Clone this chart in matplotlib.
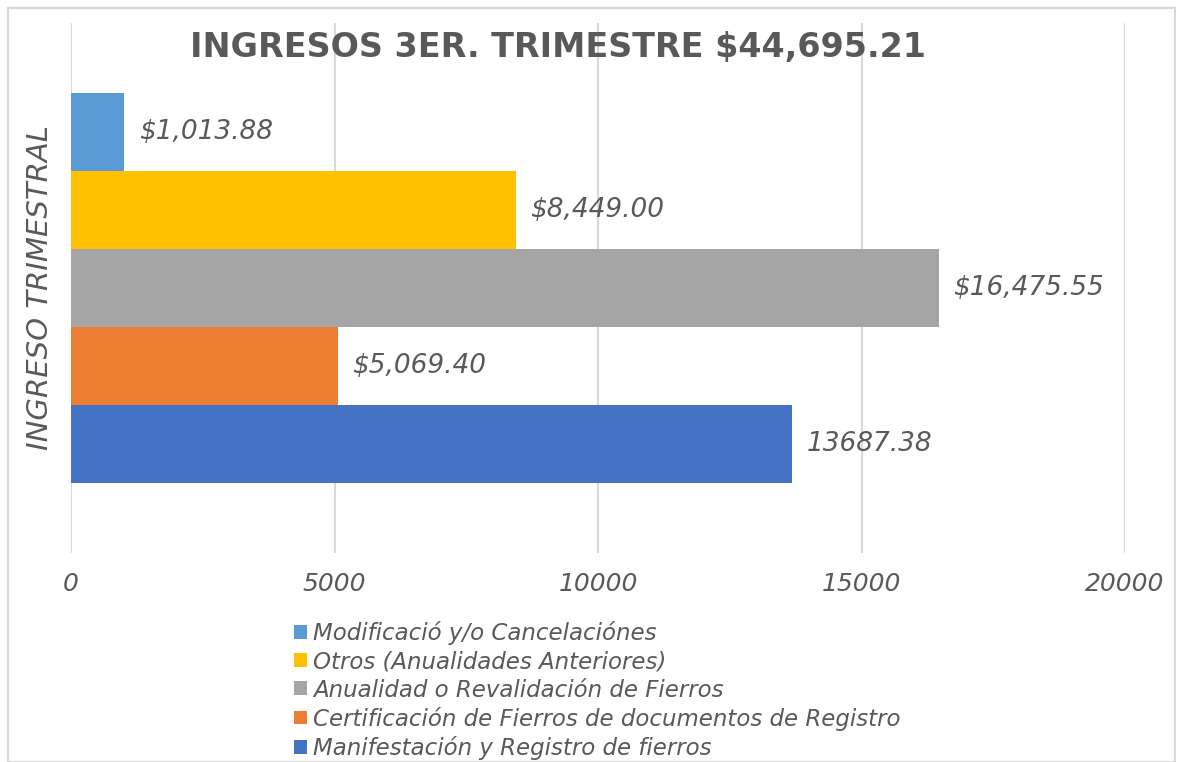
import matplotlib.pyplot as plt
from matplotlib.patches import Rectangle

series = ["Modificació y/o Cancelaciónes",
          "Otros (Anualidades Anteriores)",
          "Anualidad o Revalidación de Fierros",
          "Certificación de Fierros de documentos de Registro",
          "Manifestación y Registro de fierros"]
values = [1013.88, 8449.00, 16475.55, 5069.40, 13687.38]
labels = ["\\$1,013.88", "\\$8,449.00", "\\$16,475.55", "\\$5,069.40", "13687.38"]
colors = ["#5B9BD5", "#FFC000", "#A5A5A5", "#ED7D31", "#4472C4"]
xticks = [0, 5000, 10000, 15000, 20000]

grey = "#595959"
plt.rcParams['font.family'] = ['DejaVu Sans']

fig = plt.figure(figsize=(11.79, 7.62), dpi=100)
ax = fig.add_axes([71 / 1179, 1 - 553 / 762, (1125 - 71) / 1179, (553 - 23) / 762])

pos = [2, 1, 0, -1, -2]
for p, v, lab, c, s in zip(pos, values, labels, colors, series):
    ax.barh(p, v, height=1.0, color=c, label=s, zorder=2)
    ax.text(v + 270, p, lab, va='center', ha='left', fontsize=19,
            style='italic', color=grey)

ax.set_xlim(0, 20000)
ax.set_ylim(-3.405, 3.405)
ax.set_xticks(xticks)
ax.set_xticklabels([str(t) for t in xticks], fontsize=18, style='italic', color=grey)
ax.set_yticks([])
ax.tick_params(axis='x', length=0, pad=14)
ax.grid(axis='x', color='#D9D9D9', linewidth=1.5, zorder=0)
for sp in ax.spines.values():
    sp.set_visible(False)

ax.set_ylabel("INGRESO TRIMESTRAL", fontsize=21, style='italic', color=grey, labelpad=12)

fig.text(558 / 1179, 1 - 48 / 762, "INGRESOS 3ER. TRIMESTRE \\$44,695.21",
         ha='center', va='center', fontsize=24, fontweight='bold', color=grey)

fig.legend(loc='upper left', bbox_to_anchor=(283 / 1179, 1 - 610 / 762),
           frameon=False, handlelength=0.56, handleheight=0.56,
           handletextpad=0.25, labelspacing=0.22, borderpad=0,
           prop={'style': 'italic', 'size': 16.5}, labelcolor=grey)

fig.patches.append(Rectangle((8 / 1179, 0), (1175 - 8) / 1179, 1 - 8 / 762,
                             transform=fig.transFigure, fill=False,
                             edgecolor='#D9D9D9', linewidth=1.5))

fig.savefig("out.png", dpi=100)
